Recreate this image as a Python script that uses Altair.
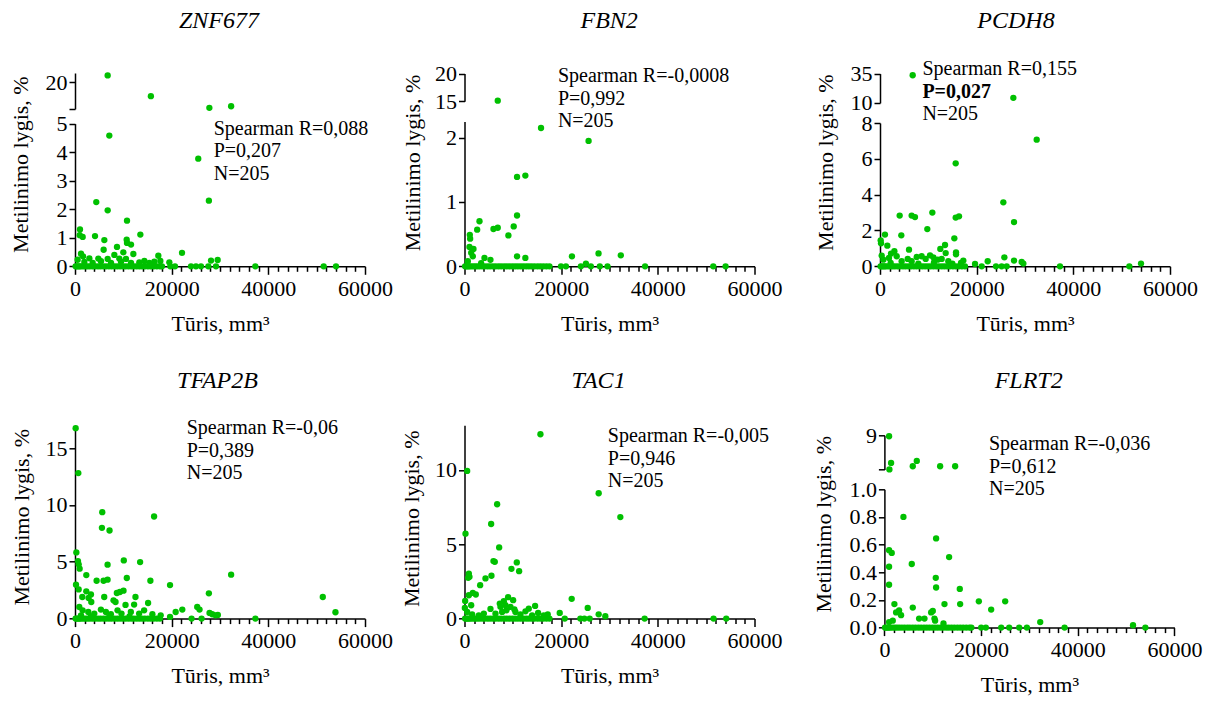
import altair as alt
import pandas as pd

FONT = "Liberation Serif"
GREEN = "#00c000"

# Dense band of tumours with ~0 % methylation (tumour volume, mm3) - shared by all genes
band_vol = [120, 360, 640, 910, 1230, 1680, 2140, 2590, 3080, 3630, 4180, 4760, 5290,
            5870, 6430, 7020, 7580, 8190, 8760, 9330, 9910, 10470, 11040, 11620, 12180,
            12770, 13320, 13880, 14460, 15090, 15680, 16290, 16940, 17580]

# (volume mm3, methylation %)
znf677 = [(6760, 21.3), (15700, 17.4), (27800, 15.2), (32300, 15.5), (7100, 4.58), (25500, 3.77),
          (4400, 2.25), (6760, 1.96), (27700, 2.30), (10760, 1.60), (1030, 1.29), (970, 1.09),
          (1590, 1.03), (4140, 1.06), (6070, 0.92), (10690, 0.93), (10760, 0.82), (11590, 0.76),
          (13520, 1.11), (8690, 0.68), (5930, 0.58), (10000, 0.49), (8140, 0.40), (12070, 0.43),
          (22140, 0.47), (17240, 0.37), (1240, 0.44), (1660, 0.35), (2970, 0.28), (4830, 0.27),
          (6760, 0.26), (9170, 0.27), (10550, 0.26), (14350, 0.19), (17660, 0.19), (19520, 0.14),
          (28140, 0.20), (29520, 0.22), (550, 0.23), (1930, 0.15), (3660, 0.12), (5380, 0.18),
          (7450, 0.12), (9520, 0.16), (11590, 0.12), (13310, 0.14), (15380, 0.12), (16410, 0.16),
          (18000, 0), (19720, 0), (20690, 0), (24000, 0), (25030, 0), (26070, 0), (27590, 0),
          (29170, 0), (37310, 0), (51450, 0), (54000, 0)]

fbn2 = [(6880, 15.1), (15830, 2.15), (25670, 1.95), (10870, 1.39), (12590, 1.41), (10870, 0.79),
        (10180, 0.62), (9080, 0.48), (3100, 0.70), (2620, 0.57), (1100, 0.49), (1170, 0.43),
        (1030, 0.30), (1380, 0.21), (1860, 0.27), (1720, 0.155), (5990, 0.58), (6880, 0.60),
        (4130, 0.13), (5370, 0.10), (10870, 0.155), (12590, 0.13), (22230, 0.155), (27730, 0.20),
        (32340, 0.17), (25120, 0.04), (690, 0.08), (3440, 0.05), (19960, 0), (20990, 0),
        (24080, 0), (26150, 0), (28000, 0), (29590, 0), (37360, 0), (51470, 0), (54020, 0)]

pcdh8 = [(6760, 33.6), (27590, 14.3), (32420, 7.07), (15660, 5.75), (25520, 3.57), (27730, 2.47),
         (4070, 2.83), (6550, 2.83), (7240, 2.75), (10830, 3.0), (15660, 2.72), (16350, 2.79),
         (9790, 2.08), (4410, 1.73), (1030, 1.77), (1520, 1.15), (140, 1.45), (210, 1.28),
         (15380, 1.56), (13450, 1.19), (12480, 0.97), (6000, 0.93), (13590, 0.74), (15730, 0.78),
         (15730, 0.67), (2970, 0.84), (2280, 0.71), (350, 0.6), (25730, 0.5), (27730, 0.32),
         (22280, 0.28), (29310, 0.24), (29660, 0.15), (54000, 0.15), (17240, 0.32), (16760, 0.19),
         (19660, 0.13), (690, 0.37), (1860, 0.47), (3450, 0.56), (4480, 0.28), (5730, 0.41),
         (7590, 0.52), (8620, 0.56), (9450, 0.41), (10350, 0.61), (11040, 0.50), (11930, 0.37),
         (12760, 0.41), (14140, 0.28), (14970, 0.15), (6550, 0.28), (7930, 0.15), (11170, 0.22),
         (2210, 0.19), (21040, 0), (24000, 0), (25170, 0), (26210, 0), (37240, 0), (51590, 0)]

tfap2b = [(137, 16.75), (687, 12.8), (5640, 9.36), (5570, 7.98), (7150, 7.75), (16360, 8.98),
          (275, 5.82), (620, 5.06), (960, 4.39), (760, 4.77), (6740, 4.74), (10100, 5.12),
          (13470, 4.97), (2340, 3.83), (4470, 3.33), (5910, 3.33), (6740, 3.42), (10720, 3.57),
          (15600, 3.33), (32300, 3.86), (19660, 2.95), (206, 2.98), (760, 2.57), (2340, 2.40),
          (3300, 2.13), (8660, 2.25), (9280, 2.34), (10040, 2.46), (27700, 2.22), (51270, 1.90),
          (53890, 0.56), (1510, 1.90), (2820, 1.81), (6050, 1.90), (12510, 1.90), (3370, 1.46),
          (7970, 1.61), (8390, 1.46), (10450, 1.20), (15120, 1.37), (12230, 1.23), (25290, 1.02),
          (25770, 0.79), (22200, 0.79), (20830, 0.58), (27840, 0.50), (28390, 0.38), (29070, 0.29),
          (29550, 0.32), (17730, 0.29), (19660, 0.15), (24120, 0), (26190, 0), (37320, 0),
          (890, 1.02), (1580, 0.73), (2750, 0.58), (3990, 0.44), (5360, 0.79), (6390, 0.58),
          (7420, 0.38), (8800, 0.73), (9620, 0.44), (11550, 0.58), (13270, 0.44), (14300, 0.73),
          (16010, 0.38), (1240, 0.29), (3300, 0.2), (7080, 0.15), (11270, 0.2)]

tac1 = [(15710, 12.4), (550, 9.93), (27760, 8.43), (32240, 6.83), (6750, 7.69), (5510, 6.36),
        (207, 5.71), (7170, 4.79), (5990, 3.87), (6270, 3.82), (10820, 3.78), (9710, 3.35),
        (11300, 3.19), (5580, 2.88), (4340, 2.70), (3240, 2.25), (900, 3.03), (1030, 2.81),
        (760, 2.74), (138, 1.19), (900, 1.57), (1720, 1.73), (2340, 1.62), (22180, 1.33),
        (9020, 1.44), (8130, 1.17), (10060, 1.24), (7300, 1.01), (14610, 0.85), (13300, 0.67),
        (5370, 0.65), (25490, 0.72), (1380, 0.90), (69, 0.72), (27760, 0.29), (29140, 0.16),
        (19700, 0.38), (17220, 0.29), (15230, 0.38), (20740, 0), (23970, 0), (24800, 0),
        (25900, 0), (37270, 0), (51530, 0), (54150, 0), (550, 0.45), (1580, 0.29), (2960, 0.22),
        (4000, 0.34), (6410, 0.34), (7780, 0.45), (8680, 0.56), (10540, 0.45), (11570, 0.29),
        (12610, 0.49), (13990, 0.22), (16400, 0.22), (7440, 0.79), (8470, 0.9), (9510, 0.79),
        (10330, 0.61)]

flrt2 = [(970, 8.77), (1380, 2.55), (1040, 1.05), (6700, 3.02), (5870, 1.78), (11530, 1.78),
         (14640, 1.78), (3940, 0.80), (10700, 0.645), (970, 0.56), (1520, 0.54), (13390, 0.51),
         (970, 0.44), (5660, 0.46), (10630, 0.36), (10700, 0.29), (970, 0.31), (15600, 0.28),
         (2070, 0.17), (5870, 0.145), (12430, 0.17), (15670, 0.17), (19540, 0.19), (24990, 0.19),
         (22090, 0.13), (3040, 0.125), (3450, 0.09), (2420, 0.11), (9670, 0.11), (10010, 0.12),
         (10360, 0.065), (7180, 0.065), (8290, 0.065), (32240, 0.04), (51440, 0.017), (10490, 0.05),
         (12220, 0.03), (970, 0.04), (1730, 0.05), (20020, 0), (20990, 0), (24160, 0), (25820, 0),
         (27890, 0), (29480, 0), (37280, 0), (53990, 0), (18000, 0)]

genes = ["ZNF677", "FBN2", "PCDH8", "TFAP2B", "TAC1", "FLRT2"]
series = [znf677, fbn2, pcdh8, tfap2b, tac1, flrt2]
stats = [["Spearman R=0,088", "P=0,207", "N=205"],
         ["Spearman R=-0,0008", "P=0,992", "N=205"],
         ["Spearman R=0,155", "P=0,027", "N=205"],
         ["Spearman R=-0,06", "P=0,389", "N=205"],
         ["Spearman R=-0,005", "P=0,946", "N=205"],
         ["Spearman R=-0,036", "P=0,612", "N=205"]]
bold_p = [False, False, True, False, False, False]

x_major = [0, 20000, 40000, 60000]
x_minor = [v for v in range(2000, 60000, 2000) if v % 20000]

# layout (pixels) of each panel
layouts = [
    dict(x0=0, w=290, h=193.3, yoff=0,
         bottom=dict(domain=[0, 5], range=[193.3, 50.6], ticks=[0, 1, 2, 3, 4, 5], fmt="d"),
         top=dict(domain=[15, 21.75], range=[35.9, 0], ticks=[15, 20], show=[20]),
         title=(144, -45.4), ytitle=(-47, 91.6), note=(138.7, 61.6)),
    dict(x0=0, w=315.3, h=193.3, yoff=0,
         bottom=dict(domain=[0, 2.25], range=[193.3, 48.6], ticks=[0, 1, 2], fmt="d"),
         top=dict(domain=[15, 20], range=[28.2, 0.6], ticks=[15, 20], show=[15, 20]),
         title=(144.7, -45.4), ytitle=(-45, 90), note=(93.4, 9.3)),
    dict(x0=0, w=290, h=193.3, yoff=0,
         bottom=dict(domain=[0, 8], range=[193.3, 50], ticks=[0, 2, 4, 6, 8], fmt="d"),
         top=dict(domain=[10, 35], range=[29.9, 0.6], ticks=[10, 35], show=[10, 35]),
         title=(136, -45.4), ytitle=(-47, 89.6), note=(42.4, 2.3)),
    dict(x0=0, w=290, h=193.3, yoff=0,
         bottom=dict(domain=[0, 17], range=[193.3, 0], ticks=[0, 5, 10, 15], fmt="d"),
         title=(142.5, -37), ytitle=(-46, 92), note=(111.7, 9)),
    dict(x0=0, w=315.3, h=193.3, yoff=0,
         bottom=dict(domain=[0, 13], range=[193.3, 0], ticks=[0, 5, 10], fmt="d"),
         title=(134, -37), ytitle=(-45.5, 93.5), note=(143.3, 16.7)),
    dict(x0=4.4, w=295, h=202.3, yoff=-4.4,
         bottom=dict(domain=[0, 1], range=[202.3, 64], ticks=[0, 0.2, 0.4, 0.6, 0.8, 1.0], fmt=".1f"),
         top=dict(domain=[1, 9], range=[44.3, 10], ticks=[1, 9], show=[9]),
         title=(148.7, -37), ytitle=(-48.8, 99), note=(109, 25)),
]

one = pd.DataFrame({"a": [0]})

AXIS_STYLE = dict(domainColor="black", domainWidth=1.5, tickColor="black", tickWidth=1.5,
                  labelColor="black", labelFont=FONT, labelFontSize=22, labelFontWeight="normal",
                  titleFont=FONT, titleColor="black", titleFontWeight="normal", titleFontSize=22,
                  grid=False, labelOverlap=False)


def txt(text, x, y, size, **kw):
    return alt.Chart(one).mark_text(text=text, font=FONT, fontSize=size, color="black",
                                    baseline="alphabetic", **kw).encode(
        x=alt.value(x), y=alt.value(y))


def yaxis(cfg, yoff, show=None):
    kw = dict(orient="left", values=cfg["ticks"], format=cfg.get("fmt", "d"), tickSize=6,
              labelPadding=2, title=None, offset=yoff, **AXIS_STYLE)
    if show is not None and len(show) < len(cfg["ticks"]):
        expr = " || ".join(f"datum.value == {s}" for s in show)
        kw["labelExpr"] = f"({expr}) ? datum.label : ''"
    return alt.Axis(**kw)


def panel(gene, pairs, st, bold, L):
    df = pd.DataFrame({"v": band_vol + [p[0] for p in pairs],
                       "m": [0.0] * len(band_vol) + [float(p[1]) for p in pairs]})
    x0 = L["x0"]
    xs = alt.Scale(domain=[0, 60000], range=[x0, x0 + 290], nice=False, zero=False)
    major = alt.Axis(orient="bottom", values=x_major, format="d", tickSize=8, labelPadding=4,
                     labelFlush=False, title="Tūris, mm³", titlePadding=14, **AXIS_STYLE)
    minor = alt.Axis(orient="bottom", values=x_minor, labels=False, domain=False, tickSize=5,
                     title=None, tickColor="black", tickWidth=1.5, grid=False)
    pts = alt.Chart(df).mark_circle(size=40, color=GREEN, opacity=1)
    yb = L["bottom"]
    bmax = yb["domain"][1]
    layers = [pts.transform_filter(f"datum.m <= {bmax}").encode(
        x=alt.X("v:Q", scale=xs, axis=major),
        y=alt.Y("m:Q", scale=alt.Scale(domain=yb["domain"], range=yb["range"], nice=False, zero=False),
                axis=yaxis(yb, L["yoff"])))]
    if "top" in L:
        yt = L["top"]
        layers.append(pts.transform_filter(f"datum.m > {bmax}").encode(
            x=alt.X("v:Q", scale=xs, axis=minor),
            y=alt.Y("m:Q", scale=alt.Scale(domain=yt["domain"], range=yt["range"], nice=False, zero=False),
                    axis=yaxis(yt, L["yoff"], yt["show"]))))
    else:
        layers.append(pts.transform_filter("datum.m < 0").encode(
            x=alt.X("v:Q", scale=xs, axis=minor)))
    tx, ty = L["title"]
    layers.append(txt(gene, tx, ty, 24, align="center", fontStyle="italic"))
    yx, yy = L["ytitle"]
    layers.append(txt("Metilinimo lygis, %", yx, yy, 22, align="center", angle=270))
    nx, ny = L["note"]
    for i, line in enumerate(st):
        w = "bold" if (i == 1 and bold) else "normal"
        layers.append(txt(line, nx, ny + i * 22.5, 20, align="left", fontWeight=w))
    return alt.layer(*layers).properties(width=L["w"], height=L["h"]).resolve_scale(
        y="independent").resolve_axis(x="independent", y="independent")


panels = [panel(g, s, st, b, L) for g, s, st, b, L in zip(genes, series, stats, bold_p, layouts)]

chart = alt.concat(*panels, columns=3, spacing={"row": 158.3, "column": 99.5},
                   bounds="flush").properties(
    padding={"left": 9, "top": 8, "right": 4, "bottom": 2}, background="white"
).configure_view(stroke=None).configure_axis(
    domainColor="black", domainWidth=1.5, tickColor="black", tickWidth=1.5,
    labelColor="black", labelFont=FONT, titleFont=FONT, titleColor="black",
    titleFontWeight="normal", grid=False)

chart.save("out.html", embed_options={"renderer": "svg", "actions": False})
